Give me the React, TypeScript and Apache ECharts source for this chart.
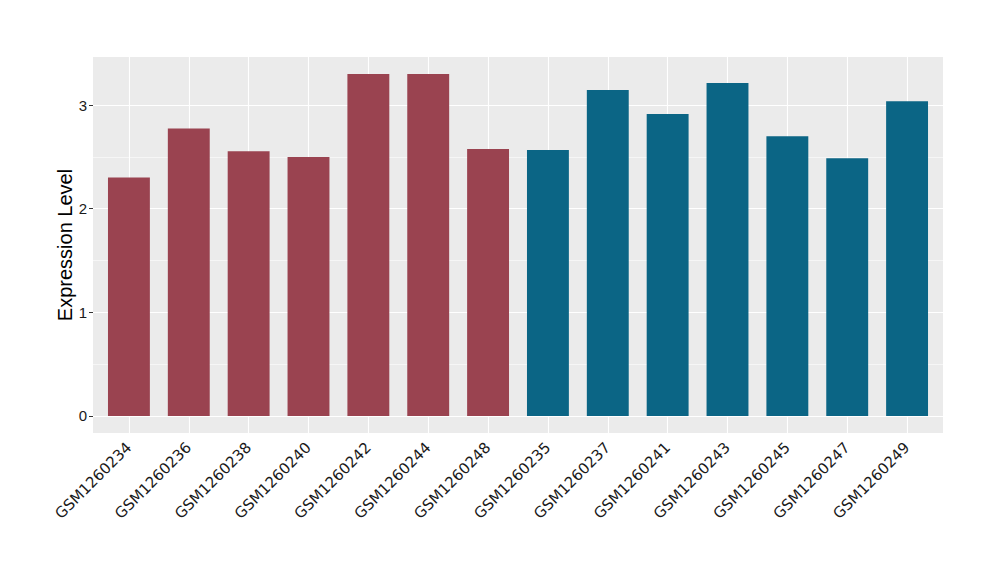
import React, { useEffect, useRef } from "react";
import * as echarts from "echarts";

const categories = [
  "GSM1260234", "GSM1260236", "GSM1260238", "GSM1260240", "GSM1260242", "GSM1260244", "GSM1260248",
  "GSM1260235", "GSM1260237", "GSM1260241", "GSM1260243", "GSM1260245", "GSM1260247", "GSM1260249",
];
const values = [2.30, 2.775, 2.555, 2.498, 3.299, 3.299, 2.575, 2.566, 3.145, 2.913, 3.212, 2.698, 2.487, 3.036];
const groups = ["A", "A", "A", "A", "A", "A", "A", "B", "B", "B", "B", "B", "B", "B"];
const groupColors: Record<string, string> = { A: "#9A4350", B: "#0B6585" };
const yTicks = [0, 1, 2, 3];
const yMinor = [0.5, 1.5, 2.5];
const yMin = -0.165;
const yMax = 3.464;

export default function App() {
  const ref = useRef<HTMLDivElement>(null);
  useEffect(() => {
    document.body.style.margin = "0";
    const chart = echarts.init(ref.current!, null, { renderer: "svg" });
    const font = "Liberation Sans";
    const hLines: any[] = [
      ...yTicks.map((v) => ({ yAxis: v, lineStyle: { color: "#FFFFFF", width: 1.1, type: "solid" } })),
      ...yMinor.map((v) => ({ yAxis: v, lineStyle: { color: "#FFFFFF", width: 0.55, type: "solid" } })),
    ];
    const vLines: any[] = categories.map((c) => ({ xAxis: c, lineStyle: { color: "#FFFFFF", width: 1.1, type: "solid" } }));
    const plotLeft = 93, plotRight = 57, pad = 6;
    chart.setOption({
      animation: false,
      grid: [
        { left: plotLeft, top: 57, right: plotRight, bottom: 147, show: true, backgroundColor: "#EBEBEB", borderWidth: 0 },
        { left: plotLeft + pad, top: 57, right: plotRight + pad, bottom: 147, show: false },
      ],
      xAxis: [
        { gridIndex: 0, type: "value", min: 0, max: 1, show: false },
        {
          gridIndex: 1,
          type: "category",
          data: categories,
          axisLine: { show: false },
          axisTick: { show: true, alignWithLabel: true, length: 4, lineStyle: { color: "#333333", width: 1 } },
          axisLabel: { rotate: 45, fontFamily: "DejaVu Sans", fontSize: 15, color: "#1A1A1A", margin: 12 },
          splitLine: { show: false },
        },
      ],
      yAxis: [
        {
          gridIndex: 0,
          type: "value",
          min: yMin,
          max: yMax,
          name: "Expression Level",
          nameLocation: "middle",
          nameGap: 18,
          nameMoveOverlap: false,
          nameTextStyle: { fontFamily: font, fontSize: 20, color: "#000000" },
          axisLine: { show: false },
          axisTick: { show: true, length: 4, customValues: yTicks, lineStyle: { color: "#333333", width: 1 } },
          axisLabel: { fontFamily: font, fontSize: 15, color: "#1A1A1A", margin: 6, customValues: yTicks },
          splitLine: { show: false },
        },
        { gridIndex: 1, type: "value", min: yMin, max: yMax, show: false, splitLine: { show: false } },
      ],
      series: [
        {
          type: "line",
          xAxisIndex: 0,
          yAxisIndex: 0,
          data: [],
          z: 1,
          silent: true,
          markLine: {
            z: 1,
            silent: true,
            symbol: ["none", "none"],
            label: { show: false },
            emphasis: { disabled: true },
            data: hLines,
          },
        },
        {
          type: "line",
          xAxisIndex: 1,
          yAxisIndex: 1,
          data: [],
          z: 1,
          silent: true,
          markLine: {
            z: 1,
            silent: true,
            symbol: ["none", "none"],
            label: { show: false },
            emphasis: { disabled: true },
            data: vLines,
          },
        },
        {
          type: "bar",
          xAxisIndex: 1,
          yAxisIndex: 1,
          z: 3,
          barWidth: "70%",
          data: values.map((v, i) => ({ value: v, itemStyle: { color: groupColors[groups[i]] } })),
        },
      ],
    });
    return () => chart.dispose();
  }, []);
  return <div ref={ref} style={{ width: 1000, height: 580 }} />;
}
